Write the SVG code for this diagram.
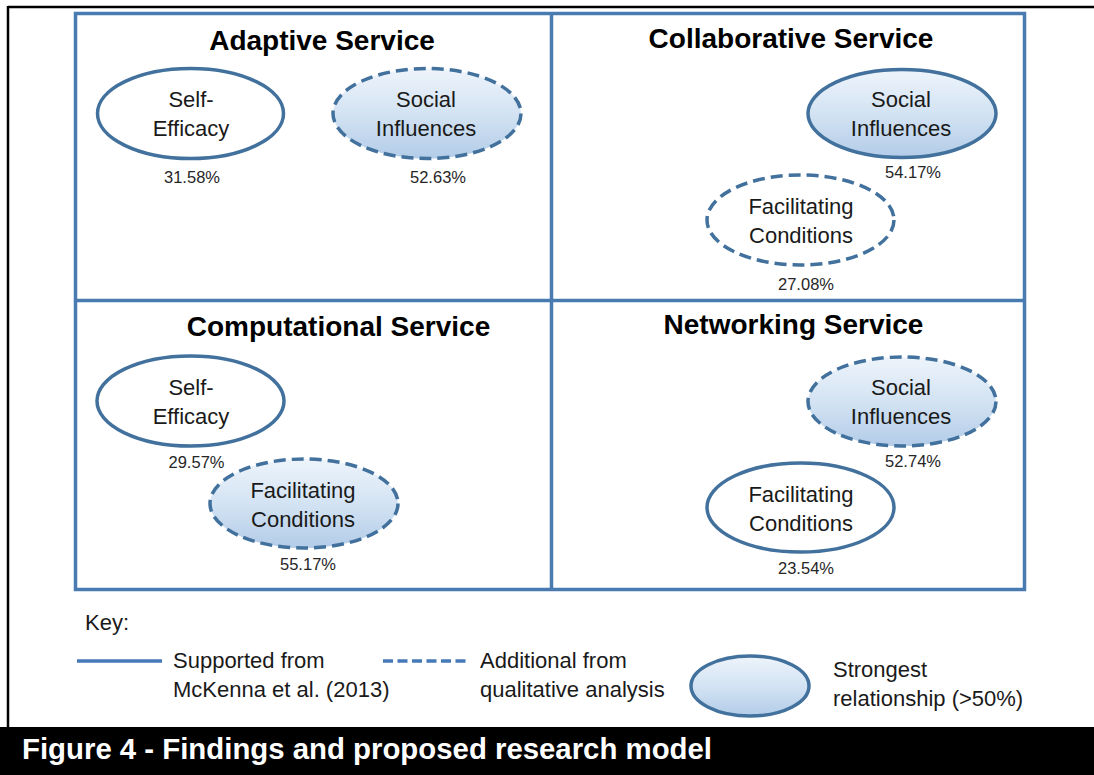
<svg xmlns="http://www.w3.org/2000/svg" width="1094" height="775" viewBox="0 0 1094 775">
  <defs>
    <linearGradient id="fillGrad" x1="0" y1="0" x2="0" y2="1">
      <stop offset="0" stop-color="#eef4fb"/>
      <stop offset="0.5" stop-color="#d3e3f3"/>
      <stop offset="1" stop-color="#b3cce8"/>
    </linearGradient>
    <style>
      .frame { fill: none; stroke: #4a7bb0; stroke-width: 3.5; }
      .title { font-family: "Liberation Sans", Arial, sans-serif; font-weight: bold; font-size: 28px; fill: #000; text-anchor: middle; }
      .lbl { font-family: "Liberation Sans", Arial, sans-serif; font-size: 22px; fill: #1a1a1a; text-anchor: middle; }
      .pct { font-family: "Liberation Sans", Arial, sans-serif; font-size: 16.5px; fill: #262626; text-anchor: middle; }
      .key { font-family: "Liberation Sans", Arial, sans-serif; font-size: 22px; fill: #1a1a1a; }
      .ell { stroke: #41719c; stroke-width: 3.5; }
      .solid { fill: #ffffff; }
      .strong { fill: url(#fillGrad); }
      .dash { stroke-dasharray: 12 6; }
      .legline { stroke: #4579b8; stroke-width: 3.5; fill: none; }
    </style>
  </defs>

  <rect x="0" y="0" width="1094" height="775" fill="#ffffff"/>
  <!-- page borders -->
  <line x1="8" y1="7" x2="1094" y2="7" stroke="#000" stroke-width="2.5"/>
  <line x1="8" y1="6" x2="8" y2="728" stroke="#000" stroke-width="2.5"/>

  <!-- frame -->
  <g id="frame">
    <rect class="frame" x="75.5" y="13.5" width="949" height="576"/>
    <line class="frame" x1="551.5" y1="13.5" x2="551.5" y2="589.5"/>
    <line class="frame" x1="75.5" y1="300.5" x2="1024.5" y2="300.5"/>
  </g>

  <!-- Adaptive Service -->
  <g id="adaptive">
    <text class="title" x="322" y="50">Adaptive Service</text>
    <g id="adaptive-self-efficacy">
      <ellipse class="ell solid" cx="190.5" cy="113.5" rx="93" ry="45"/>
      <text class="lbl" x="191" y="107">Self-</text>
      <text class="lbl" x="191" y="136">Efficacy</text>
      <text class="pct" x="192" y="183">31.58%</text>
    </g>
    <g id="adaptive-social-influences">
      <ellipse class="ell strong dash" cx="427" cy="113.5" rx="94" ry="45"/>
      <text class="lbl" x="426" y="107">Social</text>
      <text class="lbl" x="426" y="136">Influences</text>
      <text class="pct" x="438" y="183">52.63%</text>
    </g>
  </g>

  <!-- Collaborative Service -->
  <g id="collaborative">
    <text class="title" x="791" y="48">Collaborative Service</text>
    <g id="collaborative-social-influences">
      <ellipse class="ell strong" cx="902" cy="113.5" rx="94" ry="44"/>
      <text class="lbl" x="901" y="107">Social</text>
      <text class="lbl" x="901" y="136">Influences</text>
      <text class="pct" x="913" y="178">54.17%</text>
    </g>
    <g id="collaborative-facilitating-conditions">
      <ellipse class="ell solid dash" cx="800.5" cy="220" rx="93.5" ry="45"/>
      <text class="lbl" x="801" y="214">Facilitating</text>
      <text class="lbl" x="801" y="243">Conditions</text>
      <text class="pct" x="806" y="290">27.08%</text>
    </g>
  </g>

  <!-- Computational Service -->
  <g id="computational">
    <text class="title" x="338.5" y="336">Computational Service</text>
    <g id="computational-self-efficacy">
      <ellipse class="ell solid" cx="190.5" cy="401" rx="93.5" ry="45"/>
      <text class="lbl" x="191" y="395">Self-</text>
      <text class="lbl" x="191" y="424">Efficacy</text>
      <text class="pct" x="196.5" y="468">29.57%</text>
    </g>
    <g id="computational-facilitating-conditions">
      <ellipse class="ell strong dash" cx="304" cy="503.5" rx="94" ry="44.5"/>
      <text class="lbl" x="303" y="497.5">Facilitating</text>
      <text class="lbl" x="303" y="526.5">Conditions</text>
      <text class="pct" x="308" y="570">55.17%</text>
    </g>
  </g>

  <!-- Networking Service -->
  <g id="networking">
    <text class="title" x="793.5" y="334">Networking Service</text>
    <g id="networking-social-influences">
      <ellipse class="ell strong dash" cx="902" cy="401.5" rx="94" ry="44.5"/>
      <text class="lbl" x="901" y="395">Social</text>
      <text class="lbl" x="901" y="424">Influences</text>
      <text class="pct" x="913" y="467">52.74%</text>
    </g>
    <g id="networking-facilitating-conditions">
      <ellipse class="ell solid" cx="800.5" cy="507.5" rx="93.5" ry="44.5"/>
      <text class="lbl" x="801" y="502">Facilitating</text>
      <text class="lbl" x="801" y="531">Conditions</text>
      <text class="pct" x="806" y="574">23.54%</text>
    </g>
  </g>

  <g id="connectors"></g>

  <!-- Key -->
  <g id="legend">
    <text class="key" x="85" y="630" font-size="21">Key:</text>
    <line class="legline" x1="77" y1="661" x2="162" y2="661"/>
    <text class="key" x="173" y="668">Supported from</text>
    <text class="key" x="173" y="697">McKenna et al. (2013)</text>
    <line class="legline" x1="383" y1="661" x2="470" y2="661" stroke-dasharray="10 4.5"/>
    <text class="key" x="480" y="668">Additional from</text>
    <text class="key" x="480" y="697">qualitative analysis</text>
    <ellipse class="ell strong" cx="750" cy="686" rx="59" ry="30"/>
    <text class="key" x="833" y="677">Strongest</text>
    <text class="key" x="833" y="706">relationship (&gt;50%)</text>
  </g>

  <!-- Caption -->
  <g id="caption">
    <rect x="0" y="727" width="1094" height="48" fill="#000"/>
    <text x="22" y="759" font-family="'Liberation Sans Narrow', 'Liberation Sans', Arial, sans-serif" font-weight="bold" font-size="29" fill="#fff" textLength="690" lengthAdjust="spacingAndGlyphs">Figure 4 - Findings and proposed research model</text>
  </g>
</svg>
